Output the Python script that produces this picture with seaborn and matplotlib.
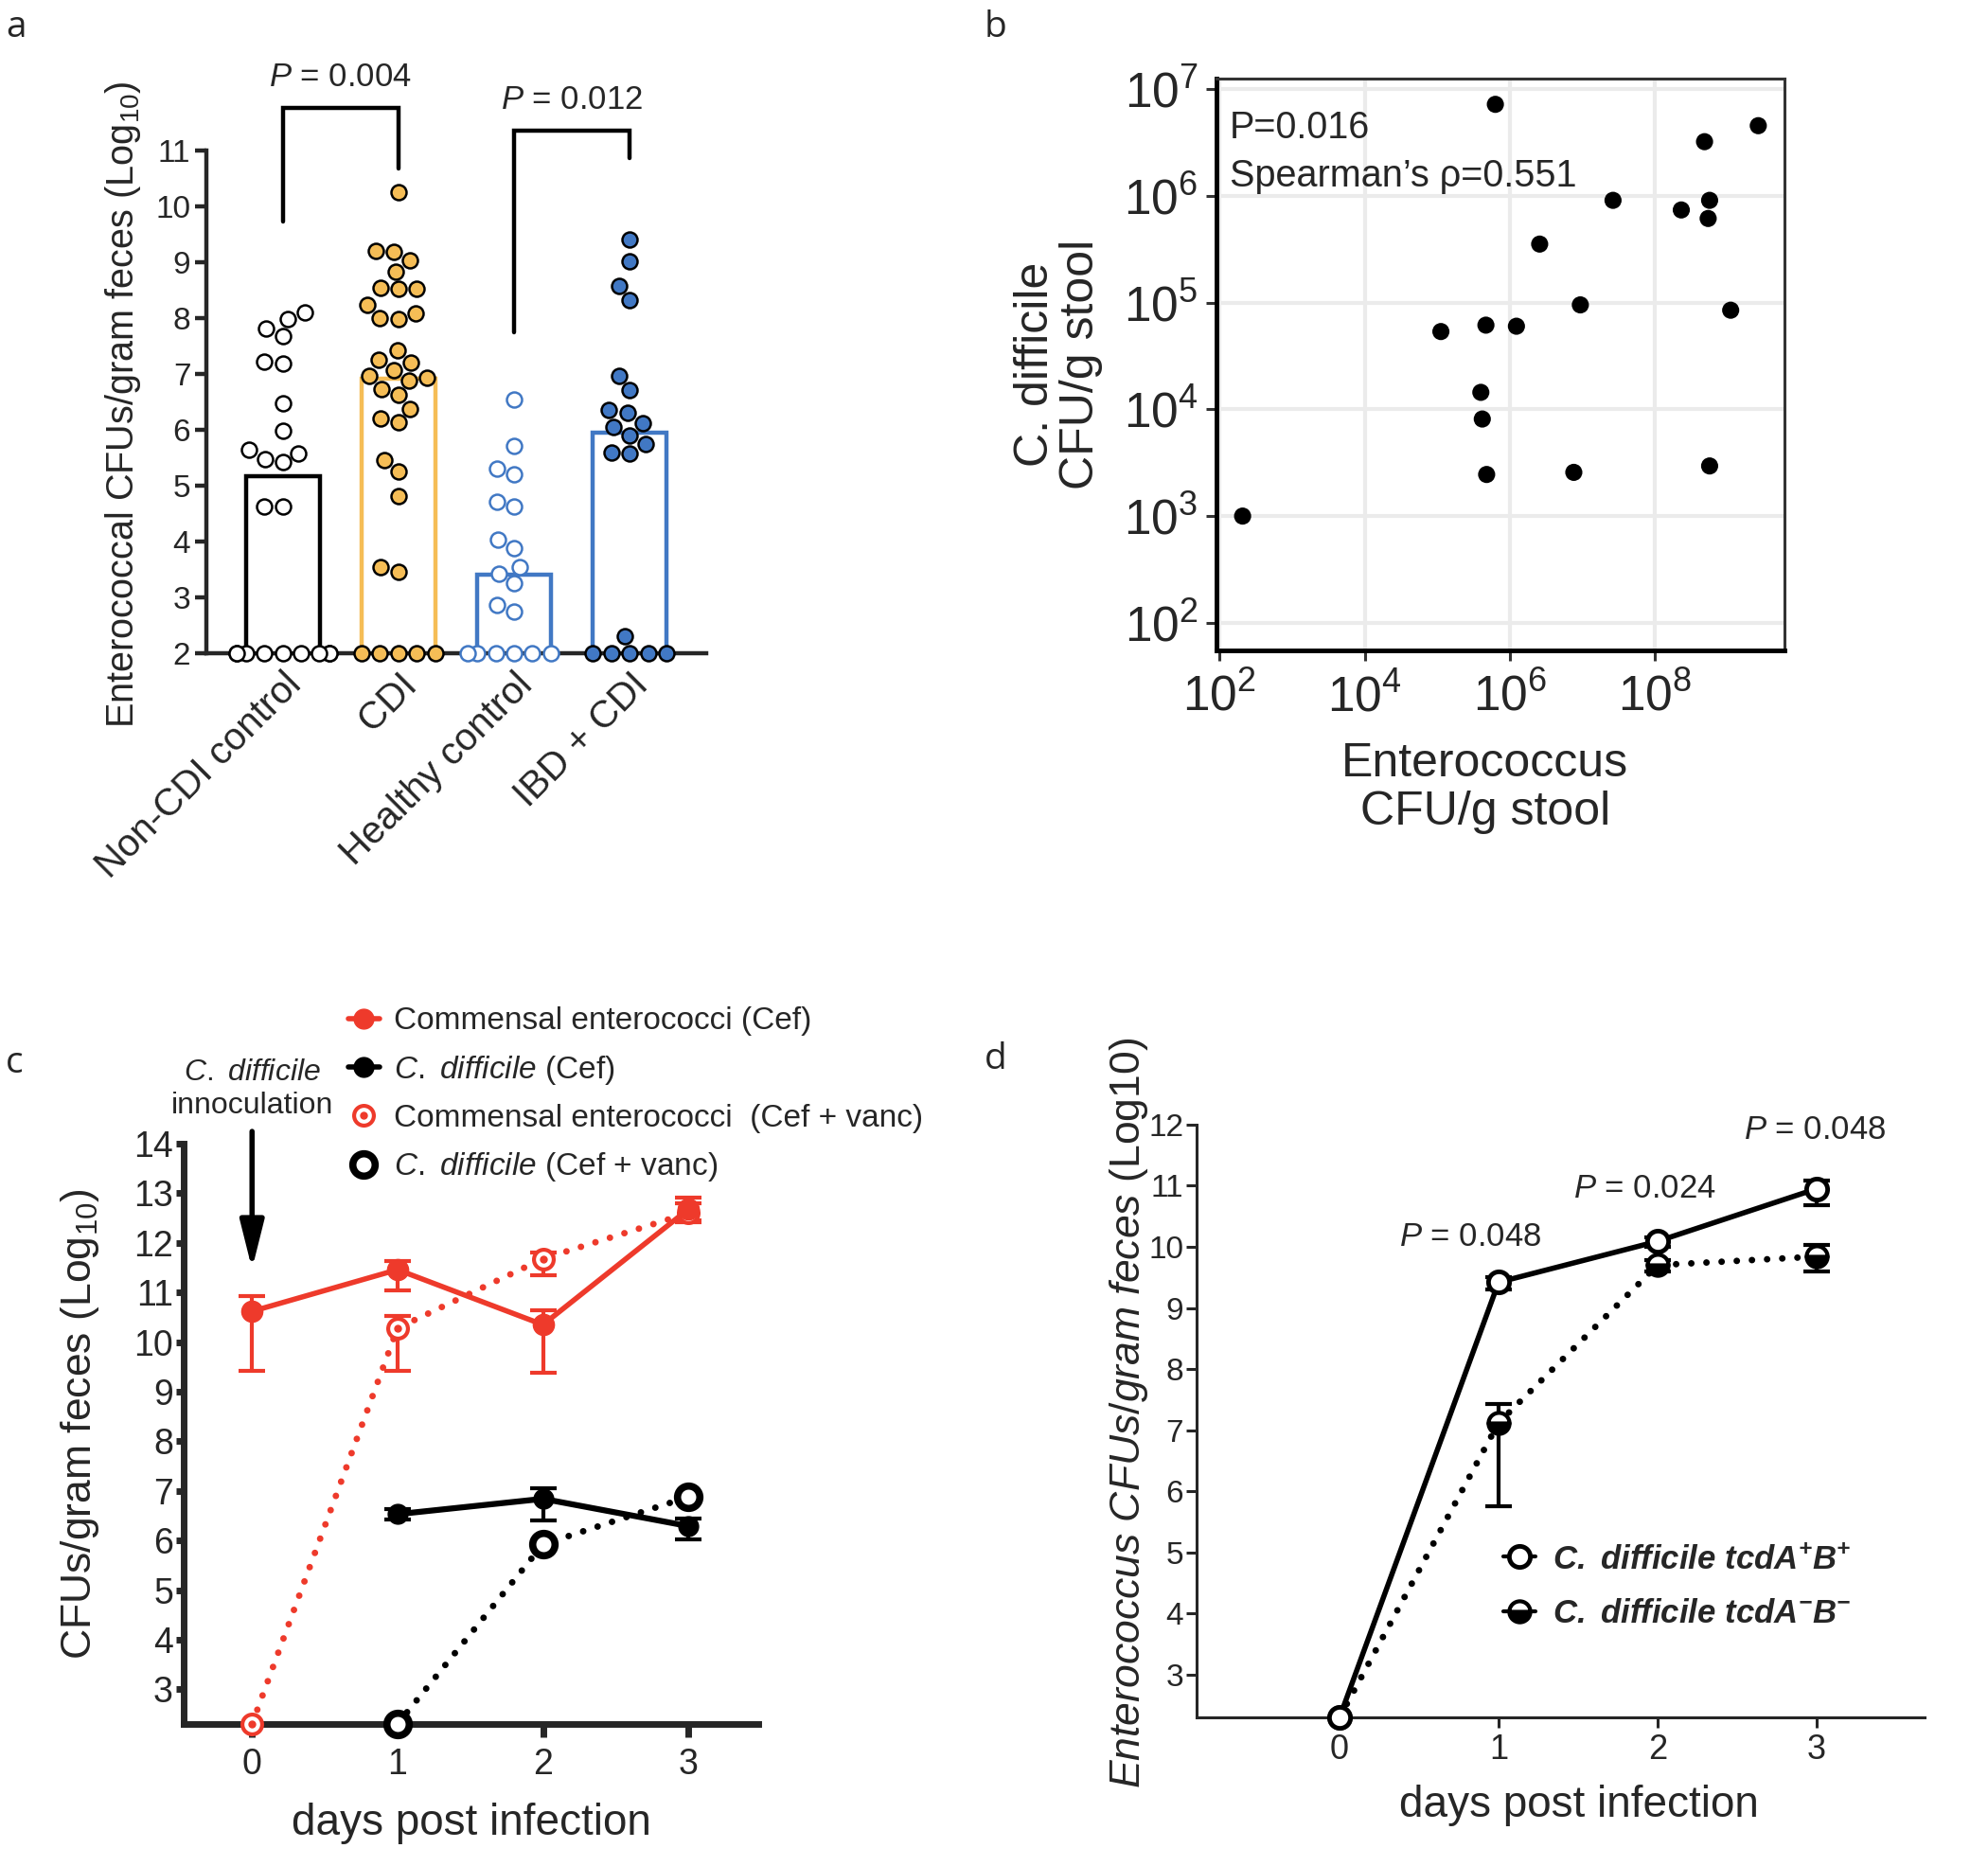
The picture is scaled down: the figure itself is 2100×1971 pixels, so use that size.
import numpy as np
import pandas as pd
import seaborn as sns
import matplotlib.pyplot as plt
from matplotlib import font_manager
from matplotlib.lines import Line2D

# ---- panel a: enterococcal load per patient group (log10 CFU/g feces)
groups = ["Non-CDI control", "CDI", "Healthy control", "IBD + CDI"]
non_cdi_ctrl = [8.1, 7.98, 7.82, 7.68, 7.22, 7.18, 6.48, 5.98, 5.65, 5.58, 5.48, 5.42,
                4.62, 4.62, 2, 2, 2, 2, 2, 2, 2, 2, 2]
cdi = [10.25, 9.2, 9.18, 9.03, 8.83, 8.52, 8.52, 8.55, 8.23, 7.98, 8.0, 8.08, 7.42,
       7.25, 7.2, 7.07, 6.97, 6.93, 6.88, 6.73, 6.62, 6.37, 6.2, 6.13, 5.45, 5.25,
       4.82, 3.55, 3.45, 2, 2, 2, 2, 2]
healthy_ctrl = [6.55, 5.72, 5.3, 5.2, 4.72, 4.62, 4.03, 3.88, 3.55, 3.43, 3.25, 2.87,
                2.75, 2, 2, 2, 2, 2, 2]
ibd_cdi = [9.4, 9.02, 8.58, 8.33, 6.97, 6.72, 6.35, 6.3, 6.12, 6.05, 5.9, 5.75, 5.6,
           5.58, 2.3, 2, 2, 2, 2, 2]
bar_heights = [5.17, 6.92, 3.4, 5.95]
bracket_pairs = [(0, 1), (2, 3)]
bracket_left = [9.73, 7.75]
bracket_top = [11.77, 11.36]
bracket_right = [10.68, 10.86]
bracket_p = ["0.004", "0.012"]

# ---- panel b: Enterococcus vs C. difficile (log10 CFU/g stool)
entero_log = [2.32, 5.05, 5.67, 6.09, 5.6, 5.62, 5.68, 5.8, 6.41, 6.97, 7.42, 6.88,
              8.36, 8.68, 8.75, 8.73, 8.75, 9.04, 9.42]
cdiff_log = [3.0, 4.73, 4.79, 4.78, 4.16, 3.91, 3.39, 6.86, 5.55, 4.98, 5.96, 3.41,
             5.87, 6.51, 5.96, 5.79, 3.47, 4.93, 6.66]

# ---- panel c: mouse time course
days = [0, 1, 2, 3]
ent_cef = [10.62, 11.46, 10.35, 12.68]
ent_cef_lo = [9.42, 11.04, 9.38, 12.42]
ent_cef_hi = [10.92, 11.63, 10.65, 12.92]
ent_vanc = [2.3, 10.28, 11.68, 12.6]
ent_vanc_lo = [2.3, 9.42, 11.35, 12.45]
ent_vanc_hi = [2.3, 10.52, 11.8, 12.8]
cd_days = [1, 2, 3]
cd_cef = [6.53, 6.84, 6.29]
cd_cef_lo = [6.42, 6.4, 6.02]
cd_cef_hi = [6.63, 7.06, 6.45]
cd_vanc = [2.3, 5.92, 6.88]
c_labels = ["Commensal enterococci (Cef)",
            r"$\mathit{C.\ difficile}$ (Cef)",
            "Commensal enterococci  (Cef + vanc)",
            r"$\mathit{C.\ difficile}$ (Cef + vanc)"]

# ---- panel d: toxin-positive vs toxin-negative C. difficile
tox_pos = [2.3, 9.42, 10.09, 10.95]
tox_pos_lo = [2.3, 9.3, 10.0, 10.68]
tox_pos_hi = [2.3, 9.5, 10.15, 11.08]
tox_neg = [2.3, 7.12, 9.7, 9.84]
tox_neg_lo = [2.3, 5.75, 9.6, 9.6]
tox_neg_hi = [2.3, 7.42, 9.78, 10.03]
d_p = ["0.048", "0.024", "0.048"]
d_p_x = [0.82, 1.92, 2.99]
d_p_y = [10.16, 10.95, 11.92]
d_labels = [r"$\mathbfit{C.\ difficile\ tcdA^{+}B^{+}}$",
            r"$\mathbfit{C.\ difficile\ tcdA^{-}B^{-}}$"]

sns.set_style("ticks")
plt.rcParams["font.family"] = ["Liberation Sans", "DejaVu Sans"]
plt.rcParams["mathtext.fontset"] = "custom"
plt.rcParams["mathtext.rm"] = "Liberation Sans"
plt.rcParams["mathtext.it"] = "Liberation Sans:italic"
plt.rcParams["mathtext.bf"] = "Liberation Sans:bold"
plt.rcParams["mathtext.bfit"] = "Liberation Sans:italic:bold"

installed = {f.name for f in font_manager.fontManager.ttflist}
NARROW = "Liberation Sans Narrow" if "Liberation Sans Narrow" in installed else "Liberation Sans"

orange = "#F5BD56"
blue = "#4178C4"
red = "#EE3A2B"

fig = plt.figure(figsize=(21, 19.71), dpi=100)

# ================= panel a =================
ax_a = fig.add_axes([0.1038, 0.6499, 0.2514, 0.3173])
series_a = [non_cdi_ctrl, cdi, healthy_ctrl, ibd_cdi]
df_a = pd.DataFrame({
    "group": np.repeat(groups, [len(s) for s in series_a]),
    "log_cfu": np.concatenate(series_a),
})
bar_edges = ["black", orange, blue, blue]
sns.barplot(x=groups, y=bar_heights, order=groups, hue=groups,
            palette=dict(zip(groups, bar_edges)), fill=False, width=0.64,
            linewidth=3.2, legend=False, ax=ax_a)
faces = ["white", orange, "white", blue]
edges = ["black", "black", blue, "black"]
for g, fc, ec in zip(groups, faces, edges):
    sns.swarmplot(data=df_a[df_a["group"] == g], x="group", y="log_cfu", order=groups,
                  color=fc, edgecolor=ec, linewidth=1.8, size=11.5, ax=ax_a,
                  zorder=4, warn_thresh=1)
for coll in ax_a.collections:
    coll.set_clip_on(False)

for (i, j), yl, yt, yr, p in zip(bracket_pairs, bracket_left, bracket_top,
                                  bracket_right, bracket_p):
    ax_a.plot([i, i, j, j], [yl, yt, yt, yr], color="black", lw=3.2,
              clip_on=False, solid_joinstyle="miter")
    ax_a.text((i + j) / 2, yt + 0.55, rf"$\mathit{{P}}$ = {p}", ha="center",
              va="center", fontsize=25)

ax_a.set_xlim(-0.66, 3.66)
ax_a.set_ylim(2, 12.6)
ax_a.set_yticks(range(2, 12))
ax_a.spines["left"].set_bounds(2, 11)
for s in ["top", "right"]:
    ax_a.spines[s].set_visible(False)
for s in ["left", "bottom"]:
    ax_a.spines[s].set_linewidth(3.2)
ax_a.tick_params(axis="y", length=9, width=3.2, labelsize=24, pad=3)
ax_a.tick_params(axis="x", length=0, labelsize=29, pad=10)
plt.setp(ax_a.get_xticklabels(), rotation=45, ha="right", rotation_mode="anchor")
ax_a.set_xlabel("")
ax_a.set_ylabel(r"Enterococcal CFUs/gram feces (Log$_{10}$)", fontsize=28.5)
ax_a.yaxis.set_label_coords(-0.127, 0.42)

# ================= panel b =================
ax_b = fig.add_axes([0.6119, 0.6514, 0.2857, 0.3064])
sns.scatterplot(x=10.0 ** np.array(entero_log), y=10.0 ** np.array(cdiff_log),
                color="black", s=170, edgecolor="none", ax=ax_b, zorder=3)
ax_b.set_xscale("log")
ax_b.set_yscale("log")
ax_b.set_xlim(10 ** 1.96, 10 ** 9.78)
ax_b.set_ylim(10 ** 1.74, 10 ** 7.1)
ax_b.set_xticks([1e2, 1e4, 1e6, 1e8], [r"$10^{2}$", r"$10^{4}$", r"$10^{6}$", r"$10^{8}$"])
ax_b.set_yticks([1e2, 1e3, 1e4, 1e5, 1e6, 1e7],
                [r"$10^{%d}$" % k for k in range(2, 8)])
ax_b.minorticks_off()
ax_b.grid(True, color="#EBEBEB", lw=3)
ax_b.set_axisbelow(True)
for s in ["top", "right"]:
    ax_b.spines[s].set_color("#333333")
    ax_b.spines[s].set_linewidth(2.2)
for s in ["left", "bottom"]:
    ax_b.spines[s].set_color("black")
    ax_b.spines[s].set_linewidth(3.5)
ax_b.tick_params(length=8, width=2.2, color="#333333", labelsize=37, pad=6)
ax_b.tick_params(axis="x", pad=10)
ax_b.text(0.023, 0.914, "P=0.016", transform=ax_b.transAxes, fontsize=28.5, va="center")
ax_b.text(0.023, 0.829, "Spearman\u2019s \u03c1=0.551", transform=ax_b.transAxes,
          fontsize=28.5, va="center")
ax_b.set_xlabel("Enterococcus\nCFU/g stool", fontsize=36, linespacing=1.15)
ax_b.set_ylabel("C. difficile\nCFU/g stool", fontsize=36, linespacing=1.05)
ax_b.xaxis.set_label_coords(0.473, -0.16)
ax_b.yaxis.set_label_coords(-0.2, 0.5)


def draw_errors(ax, x, y, lo, hi, color, lw, cap):
    x, y, lo, hi = (np.asarray(v, dtype=float) for v in (x, y, lo, hi))
    keep = hi > lo
    ax.errorbar(x[keep], y[keep], yerr=[y[keep] - lo[keep], hi[keep] - y[keep]],
                fmt="none", ecolor=color, elinewidth=lw, capsize=cap, capthick=lw,
                zorder=2)


# ================= panel c =================
ax_c = fig.add_axes([0.0924, 0.0761, 0.289, 0.311])
dotted = (0, (0.01, 2.3))
draw_errors(ax_c, days, ent_cef, ent_cef_lo, ent_cef_hi, red, 3, 10)
draw_errors(ax_c, days, ent_vanc, ent_vanc_lo, ent_vanc_hi, red, 3, 10)
draw_errors(ax_c, cd_days, cd_cef, cd_cef_lo, cd_cef_hi, "black", 3, 10)
sns.lineplot(x=days, y=ent_vanc, color=red, linestyle=dotted, linewidth=5,
             dash_capstyle="round", marker="o", markersize=15,
             markerfacecolor="white", markeredgecolor=red, markeredgewidth=3,
             estimator=None, errorbar=None, clip_on=False, zorder=3, ax=ax_c)
ax_c.plot(days, ent_vanc, ls="none", marker="o", ms=5, color=red, clip_on=False, zorder=3.5)
sns.lineplot(x=days, y=ent_cef, color=red, linewidth=4, marker="o", markersize=16,
             markerfacecolor=red, markeredgecolor=red, markeredgewidth=1,
             estimator=None, errorbar=None, clip_on=False, zorder=4, ax=ax_c)
sns.lineplot(x=cd_days, y=cd_vanc, color="black", linestyle=dotted, linewidth=5,
             dash_capstyle="round", marker="o", markersize=17,
             markerfacecolor="white", markeredgecolor="black", markeredgewidth=5.5,
             estimator=None, errorbar=None, clip_on=False, zorder=3, ax=ax_c)
sns.lineplot(x=cd_days, y=cd_cef, color="black", linewidth=4.5, marker="o", markersize=15,
             markerfacecolor="black", markeredgecolor="black", markeredgewidth=1,
             estimator=None, errorbar=None, clip_on=False, zorder=4, ax=ax_c)

ax_c.set_xlim(-0.47, 3.48)
ax_c.set_ylim(2.3, 14)
ax_c.set_yticks(range(3, 15), [str(v) for v in range(3, 15)], fontfamily=NARROW, fontsize=27)
ax_c.set_xticks(days, [str(v) for v in days], fontfamily=NARROW, fontsize=27)
for s in ["top", "right"]:
    ax_c.spines[s].set_visible(False)
for s in ["left", "bottom"]:
    ax_c.spines[s].set_linewidth(5)
ax_c.tick_params(axis="y", length=6, width=5, pad=2)
ax_c.tick_params(axis="x", length=10, width=5, pad=8)
ax_c.set_xlabel("days post infection", fontsize=33, fontfamily=NARROW)
ax_c.set_ylabel(r"CFUs/gram feces (Log$_{10}$)", fontsize=32)
ax_c.xaxis.set_label_coords(0.5, -0.135)
ax_c.yaxis.set_label_coords(-0.143, 0.517)
ax_c.annotate("", xy=(0, 11.42), xytext=(0, 14.3),
              arrowprops=dict(arrowstyle="-|>,head_length=1.4,head_width=0.35",
                              color="black", lw=4, mutation_scale=22),
              annotation_clip=False)
ax_c.text(0, 15.1, "$\\mathit{C.\\ difficile}$\ninnoculation", ha="center", va="center",
          fontsize=23, fontfamily=NARROW, linespacing=1.2)

c_handles = [
    Line2D([], [], color=red, lw=4, marker="o", ms=15, mfc=red, mec=red),
    Line2D([], [], color="black", lw=4, marker="o", ms=15, mfc="black", mec="black"),
    (Line2D([], [], ls="none", marker="o", ms=15, mfc="white", mec=red, mew=3),
     Line2D([], [], ls="none", marker="o", ms=5, color=red)),
    Line2D([], [], ls="none", marker="o", ms=17, mfc="white", mec="black", mew=5.5),
]
fig.legend(c_handles, c_labels, loc="upper left", bbox_to_anchor=(0.175, 0.4605),
           frameon=False, handlelength=1.0, handletextpad=0.45, labelspacing=0.55,
           borderpad=0, borderaxespad=0, prop={"family": NARROW, "size": 24})

# ================= panel d =================
ax_d = fig.add_axes([0.6019, 0.0797, 0.3662, 0.3176])
draw_errors(ax_d, days, tox_pos, tox_pos_lo, tox_pos_hi, "black", 3, 10)
draw_errors(ax_d, days, tox_neg, tox_neg_lo, tox_neg_hi, "black", 3, 10)
sns.lineplot(x=days, y=tox_neg, color="black", linestyle=dotted, linewidth=5,
             dash_capstyle="round", marker="o", markersize=16, fillstyle="bottom",
             markerfacecolor="black", markerfacecoloralt="white",
             markeredgecolor="black", markeredgewidth=3,
             estimator=None, errorbar=None, clip_on=False, zorder=3, ax=ax_d)
sns.lineplot(x=days, y=tox_pos, color="black", linewidth=4, marker="o", markersize=16,
             markerfacecolor="white", markeredgecolor="black", markeredgewidth=3.5,
             estimator=None, errorbar=None, clip_on=False, zorder=4, ax=ax_d)
for x, y, p in zip(d_p_x, d_p_y, d_p):
    ax_d.text(x, y, rf"$\mathit{{P}}$ = {p}", ha="center", va="center",
              fontsize=25, fontfamily=NARROW)
ax_d.set_xlim(-0.9, 3.68)
ax_d.set_ylim(2.3, 12)
ax_d.set_yticks(range(3, 13), [str(v) for v in range(3, 13)], fontfamily=NARROW, fontsize=24)
ax_d.set_xticks(days, [str(v) for v in days], fontfamily=NARROW, fontsize=26)
for s in ["top", "right"]:
    ax_d.spines[s].set_visible(False)
for s in ["left", "bottom"]:
    ax_d.spines[s].set_linewidth(2.2)
ax_d.tick_params(length=8, width=2.2, pad=4)
ax_d.tick_params(axis="y", pad=2)
ax_d.set_xlabel("days post infection", fontsize=33, fontfamily=NARROW)
ax_d.set_ylabel(r"$\mathit{Enterococcus\ CFUs/gram\ feces}$ (Log10)", fontsize=32)
ax_d.xaxis.set_label_coords(0.525, -0.113)
ax_d.yaxis.set_label_coords(-0.064, 0.514)
d_handles = [
    Line2D([], [], color="black", lw=3, marker="o", ms=16, mfc="white", mec="black", mew=3.5),
    Line2D([], [], color="black", lw=3, marker="o", ms=16, fillstyle="bottom", mfc="black",
           mfcalt="white", mec="black", mew=3),
]
fig.legend(d_handles, d_labels, loc="upper left", bbox_to_anchor=(0.756, 0.1727),
           frameon=False, handlelength=1.0, handletextpad=0.5, labelspacing=0.7,
           borderpad=0, borderaxespad=0, prop={"size": 25})

# panel letters
for letter, x, y in [("a", 0.003, 0.995), ("b", 0.495, 0.995),
                     ("c", 0.003, 0.44), ("d", 0.495, 0.442)]:
    fig.text(x, y, letter, fontsize=28, fontfamily="Open Sans", va="top")

fig.savefig("out.png", dpi=100)
